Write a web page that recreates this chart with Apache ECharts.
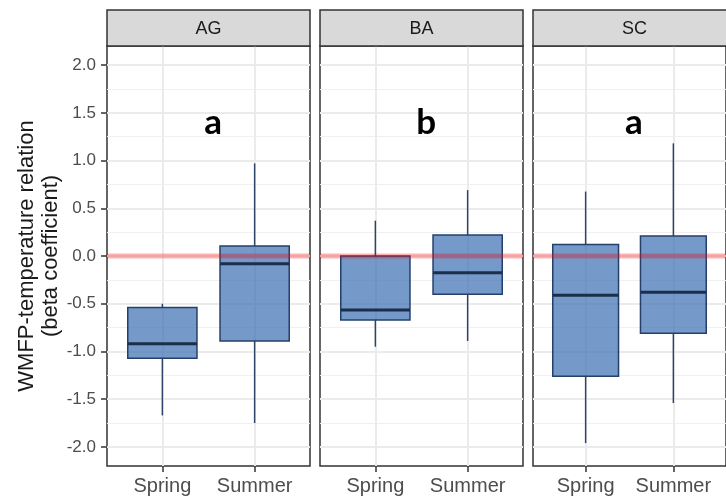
<!DOCTYPE html>
<html>
<head>
<meta charset="utf-8">
<script src="https://cdn.jsdelivr.net/npm/echarts@6/dist/echarts.min.js"></script>
<style>
  html, body { margin: 0; padding: 0; background: #fff; overflow: hidden; }
  #chart { width: 726px; height: 503px; }
</style>
</head>
<body>
<div id="chart"></div>
<script>
// Sites (facets) and seasons
const facets = ['AG', 'BA', 'SC'];
const seasons = ['Spring', 'Summer'];
// Box summaries per season: [lower whisker, Q1, median, Q3, upper whisker]
const agBoxes = [[-1.67, -1.07, -0.92, -0.54, -0.50], [-1.75, -0.89, -0.08, 0.105, 0.97]];
const baBoxes = [[-0.95, -0.67, -0.565, 0.0, 0.37], [-0.89, -0.40, -0.175, 0.22, 0.69]];
const scBoxes = [[-1.96, -1.26, -0.41, 0.12, 0.675], [-1.54, -0.81, -0.38, 0.21, 1.18]];
// Significance group letters per site
const groupLetters = ['a', 'b', 'a'];
// Y tick labels and minor grid positions
const yTicks = [-2.0, -1.5, -1.0, -0.5, 0.0, 0.5, 1.0, 1.5, 2.0];
const yMinor = [-1.75, -1.25, -0.75, -0.25, 0.25, 0.75, 1.25, 1.75];
const referenceLevel = 0;

const boxesBySite = [agBoxes, baBoxes, scBoxes];

// Panel layout
const FONT = 'Liberation Sans, Arial, sans-serif';
const panelLeft = [107, 320, 533];
const panelWidth = 203;
const panelTop = 46;
const panelHeight = 420;
const stripTop = 10;
const stripHeight = 36;
const xRange = [0.4, 2.6];
const yRange = [-2.2, 2.2];
const letterAt = [1.55, 1.40];

const grids = [], xAxes = [], yAxes = [], series = [], graphics = [];

facets.forEach((site, i) => {
  grids.push({
    left: panelLeft[i], top: panelTop, width: panelWidth, height: panelHeight,
    show: true, backgroundColor: '#fff', borderColor: '#333', borderWidth: 1.5
  });

  xAxes.push({
    gridIndex: i, type: 'value', min: xRange[0], max: xRange[1], position: 'bottom',
    axisLine: { show: false, onZero: false },
    axisTick: { show: true, customValues: [1, 2], length: 6, lineStyle: { color: '#333', width: 1.5 } },
    axisLabel: {
      customValues: [1, 2], formatter: v => seasons[Math.round(v) - 1],
      color: '#4d4d4d', fontSize: 20, fontFamily: FONT, margin: 10
    },
    splitLine: { show: true, lineStyle: { color: '#ebebeb', width: 2 } }
  });

  yAxes.push({
    gridIndex: i, type: 'value', min: yRange[0], max: yRange[1], position: 'left',
    axisLine: { show: false, onZero: false },
    axisTick: { show: i === 0, customValues: yTicks, length: 6, lineStyle: { color: '#333', width: 1.5 } },
    axisLabel: {
      show: i === 0, customValues: yTicks, formatter: v => v.toFixed(1),
      color: '#4d4d4d', fontSize: 17, fontFamily: FONT, margin: 11
    },
    splitLine: { show: true, lineStyle: { color: '#ebebeb', width: 2 } },
    name: i === 0 ? 'WMFP-temperature relation\n(beta coefficient)' : '',
    nameLocation: 'middle', nameRotate: 90, nameGap: 44,
    nameTextStyle: { fontSize: 22, color: '#1a1a1a', fontFamily: FONT, lineHeight: 24 }
  });

  // strip header
  graphics.push({
    type: 'rect', z: 10,
    shape: { x: panelLeft[i], y: stripTop, width: panelWidth, height: stripHeight },
    style: { fill: '#d9d9d9', stroke: '#333', lineWidth: 1.5 }
  });
  graphics.push({
    type: 'text', z: 11,
    style: {
      text: site, x: panelLeft[i] + panelWidth / 2, y: stripTop + stripHeight / 2 + 1,
      align: 'center', verticalAlign: 'middle', font: '18px ' + FONT, fill: '#1a1a1a'
    }
  });
});

// minor horizontal grid lines
facets.forEach((site, i) => {
  yAxes.push({
    gridIndex: i, type: 'value', min: yRange[0], max: yRange[1], position: 'left',
    axisLine: { show: false, onZero: false }, axisLabel: { show: false },
    axisTick: { show: false, customValues: yMinor },
    splitLine: { show: true, lineStyle: { color: '#f0f0f0', width: 1.2 } }
  });
});

facets.forEach((site, i) => {
  series.push({
    type: 'custom', name: site, xAxisIndex: i, yAxisIndex: i, z: 3,
    data: boxesBySite[i].map((b, j) => [j + 1].concat(b)),
    renderItem(params, api) {
      const x = api.value(0);
      const lo = api.coord([x, api.value(1)]);
      const q1 = api.coord([x, api.value(2)]);
      const med = api.coord([x, api.value(3)]);
      const q3 = api.coord([x, api.value(4)]);
      const hi = api.coord([x, api.value(5)]);
      const w = api.size([0.75, 0])[0];
      const cx = lo[0];
      const whisker = { stroke: '#2d4468', lineWidth: 1.5 };
      return {
        type: 'group',
        children: [
          { type: 'line', shape: { x1: cx, y1: q3[1], x2: cx, y2: hi[1] }, style: whisker },
          { type: 'line', shape: { x1: cx, y1: q1[1], x2: cx, y2: lo[1] }, style: whisker },
          {
            type: 'rect',
            shape: { x: cx - w / 2, y: q3[1], width: w, height: q1[1] - q3[1] },
            style: { fill: 'rgba(59,109,176,0.7)', stroke: '#24406a', lineWidth: 1.5 }
          },
          {
            type: 'line', shape: { x1: cx - w / 2, y1: med[1], x2: cx + w / 2, y2: med[1] },
            style: { stroke: '#1b2f4d', lineWidth: 3 }
          }
        ]
      };
    }
  });

  series.push({
    type: 'line', xAxisIndex: i, yAxisIndex: i, z: 5, silent: true,
    symbol: 'none',
    data: [[xRange[0], referenceLevel], [xRange[1], referenceLevel]],
    lineStyle: { color: 'rgba(255,0,0,0.3)', width: 5 }
  });

  series.push({
    type: 'custom', xAxisIndex: i, yAxisIndex: i, z: 6, silent: true,
    data: [[letterAt[0], letterAt[1], groupLetters[i]]],
    renderItem(params, api) {
      const p = api.coord([api.value(0), api.value(1)]);
      return {
        type: 'text',
        style: {
          text: groupLetters[i], x: p[0], y: p[1],
          align: 'center', verticalAlign: 'middle',
          font: 'bold 35px Lato, "Open Sans", sans-serif', fill: '#000'
        }
      };
    }
  });
});

const chart = echarts.init(document.getElementById('chart'), null, { renderer: 'canvas' });
chart.setOption({
  animation: false,
  backgroundColor: '#fff',
  grid: grids,
  xAxis: xAxes,
  yAxis: yAxes,
  series: series,
  graphic: graphics
});
</script>
</body>
</html>
